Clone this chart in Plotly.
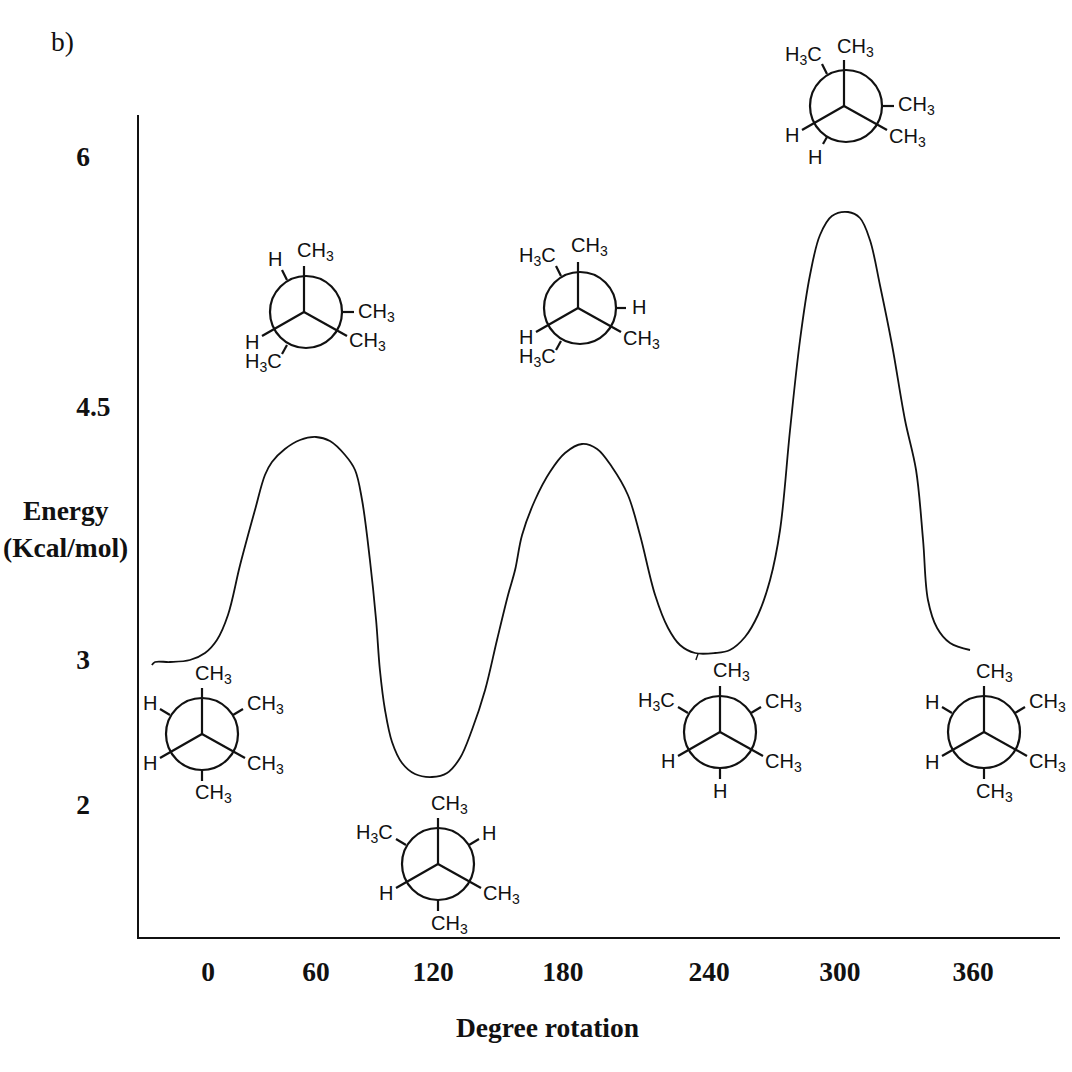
import plotly.graph_objects as go

# Curve: rotation (degrees) and energy (kcal/mol)
rotation = [-26.4,-24.9,-17.9,-8.5,-1.4,4.2,9.4,15.1,22.1,26.8,30.1,36.2,43.3,50.8,57.4,64.5,69.2,72.5,76.2,79.1,
            80.9,83.3,86.6,91.3,97.4,105.4,112.5,118.6,124.2,130.4,136,141.2,144.5,147.8,153.9,160.9,168,176,183.1,190.1,
            197.6,203.3,210.4,216.5,222.1,229.2,238.6,245.6,252.7,258.8,264.5,269.2,273.9,278.6,283.3,288,293.6,301.2,306.8,311.5,
            316.2,321.9,328,333.2,336.5,338.8,343.1,349.2,358.6]
energy = [2.97,2.988,2.988,3.0,3.042,3.12,3.27,3.57,3.9,4.11,4.188,4.266,4.32,4.338,4.314,4.23,4.14,3.96,3.6,3.24,
          2.94,2.7,2.508,2.382,2.316,2.298,2.322,2.412,2.58,2.82,3.12,3.39,3.54,3.75,3.96,4.128,4.242,4.296,4.266,4.158,
          3.99,3.75,3.39,3.192,3.09,3.042,3.042,3.06,3.138,3.27,3.48,3.78,4.38,4.92,5.31,5.55,5.664,5.688,5.652,5.52,
          5.25,4.89,4.44,4.14,3.72,3.36,3.192,3.102,3.06]
hook_rotation = [229.6, 230.7]
hook_energy = [3.0, 3.04]

x_tick_positions = [0, 50.8, 105.9, 167, 235.8, 297.4, 360]
x_tick_labels = ["0", "60", "120", "180", "240", "300", "360"]
y_tick_positions = [6.024, 4.524, 3.006, 2.136]
y_tick_labels = ["6", "4.5", "3", "2"]

W = 1072
SERIF = "Liberation Serif"
SANS = "Liberation Sans"
CH3, H3C, H = "CH<sub>3</sub>", "H<sub>3</sub>C", "H"

# centre, circle offset, back-bond stubs (start/end offsets), labels
UL = (-32, -19, -42, -25); UR = (31, -19, 41, -25); DN = (0, 36, 0, 47)
UL2 = (-17, -32, -22, -42); RT = (38, 0, 50, 0); LL2 = (-17, 33, -22, 42)
newmans = [
    ((202, 734), 0, [UL, UR, DN], [(CH3,213,674),(H,150,703),(CH3,265,704),(H,150,763),(CH3,265,764),(CH3,213,793)]),
    ((304, 312), 2, [UL2, RT, LL2], [(H,275,259),(CH3,315,252),(CH3,376,312),(CH3,367,341),(H,252,342),(H3C,263,362)]),
    ((438, 864), 0, [UL, UR, DN], [(CH3,449,804),(H3C,374,833),(H,489,833),(H,386,893),(CH3,501,894),(CH3,449,924)]),
    ((578, 308), 2, [UL2, (38,0,48,0), LL2], [(H3C,537,256),(CH3,589,247),(H,639,307),(CH3,641,339),(H,526,337),(H3C,537,358)]),
    ((720, 732), 0, [UL, UR, DN], [(CH3,731,671),(H3C,656,701),(CH3,783,702),(H,668,761),(CH3,783,762),(H,720,791)]),
    ((844, 106), 2, [UL2, RT, (-17,31,-21,38)], [(CH3,855,47),(H3C,803,55),(CH3,916,106),(CH3,907,137),(H,792,135),(H,815,157)]),
    ((984, 732), 0, [UL, UR, DN], [(CH3,995,672),(H,932,702),(CH3,1047,702),(H,932,762),(CH3,1047,762),(CH3,995,792)]),
]
FRONT = [(0, -46), (43, 24), (-42, 24)]
R = 36

px = lambda v: v / W
py = lambda v: 1 - v / W

fig = go.Figure()
fig.add_trace(go.Scatter(x=rotation, y=energy, mode="lines",
                         line=dict(color="#111", width=1.8, shape="spline", smoothing=1.0), hoverinfo="skip"))
fig.add_trace(go.Scatter(x=hook_rotation, y=hook_energy, mode="lines",
                         line=dict(color="#111", width=1.4), hoverinfo="skip"))

shapes, annotations = [], []
line = dict(color="#111", width=2.2)


def seg(x0, y0, x1, y1):
    shapes.append(dict(type="line", xref="paper", yref="paper", x0=px(x0), y0=py(y0), x1=px(x1), y1=py(y1), line=line))


for (cx, cy), off, stubs, labels in newmans:
    shapes.append(dict(type="circle", xref="paper", yref="paper", x0=px(cx + off - R), x1=px(cx + off + R),
                       y0=py(cy + R), y1=py(cy - R), line=line))
    for dx, dy in FRONT:
        seg(cx, cy, cx + dx, cy + dy)
    for a, b, c, d in stubs:
        seg(cx + a, cy + b, cx + c, cy + d)
    for text, lx, ly in labels:
        annotations.append(dict(text=text, xref="paper", yref="paper", x=px(lx), y=py(ly), showarrow=False,
                                xanchor="center", yanchor="middle", font=dict(family=SANS, size=20, color="#111")))

for text, lx, ly, bold in [("b)", 62, 41, False), ("Energy", 66, 510, True), ("(Kcal/mol)", 65, 547, True),
                           ("Degree rotation", 547, 1027, True)]:
    annotations.append(dict(text=f"<b>{text}</b>" if bold else text, xref="paper", yref="paper", x=px(lx), y=py(ly),
                            showarrow=False, xanchor="center", yanchor="middle",
                            font=dict(family=SERIF, size=27.5, color="#111")))

tick_font = dict(family=SERIF, size=27.5, color="#111")
fig.update_layout(
    width=W, height=W, margin=dict(l=0, r=0, t=0, b=0), showlegend=False,
    paper_bgcolor="white", plot_bgcolor="white", shapes=shapes, annotations=annotations,
    xaxis=dict(domain=[px(139), px(1060)], range=[-32.47, 400.94], showgrid=False, zeroline=False,
               showline=True, linecolor="#111", linewidth=2, ticks="", tickmode="array",
               tickvals=x_tick_positions, ticktext=[f"<b>{t}</b>" for t in x_tick_labels],
               tickfont=tick_font, ticklabelstandoff=9),
    yaxis=dict(domain=[py(937), py(115)], range=[1.338, 6.27], showgrid=False, zeroline=False,
               showline=True, linecolor="#111", linewidth=2, ticks="", tickmode="array",
               tickvals=y_tick_positions,
               ticktext=[f"<b>{t}</b>" + ("" if t == "4.5" else "\u00a0\u00a0\u00a0") for t in y_tick_labels],
               tickfont=tick_font, ticklabelstandoff=21),
)
fig.write_html("out.html", config=dict(displayModeBar=False),
               post_script="document.body.style.margin='0';")
